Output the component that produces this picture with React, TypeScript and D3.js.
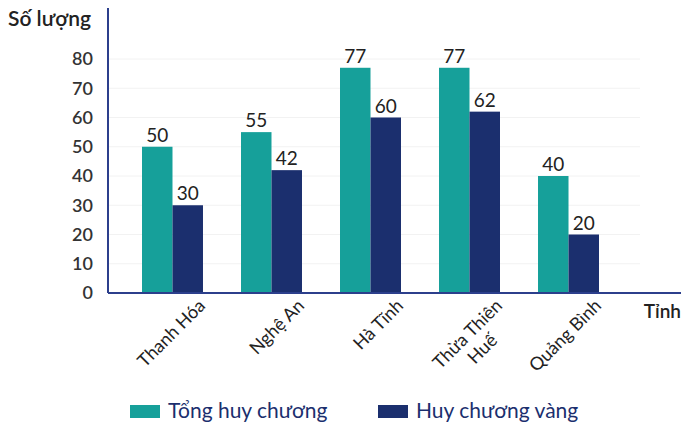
import React, { useEffect, useRef } from "react";
import * as d3 from "d3";

const provinces = ["Thanh Hóa", "Nghệ An", "Hà Tĩnh", "Thừa Thiên\nHuế", "Quảng Bình"];
const totalMedals = [50, 55, 77, 77, 40];
const goldMedals = [30, 42, 60, 62, 20];
const yTicks = [0, 10, 20, 30, 40, 50, 60, 70, 80];
const seriesNames = ["Tổng huy chương", "Huy chương vàng"];
const colors = ["#16a09a", "#1b2f6e"];

const W = 683;
const H = 427;
const FONT = "Lato, 'Open Sans', sans-serif";

export default function App() {
  const ref = useRef<SVGSVGElement | null>(null);

  useEffect(() => {
    const svg = d3.select(ref.current);
    svg.selectAll("*").remove();

    const x0 = 108;
    const y0 = 293;
    const y = d3.scaleLinear().domain([0, 80]).range([y0, 59]);
    const x = d3.scaleBand<string>().domain(provinces).range([142, 599]).paddingInner(0.384).paddingOuter(0);
    const xs = d3.scaleBand<number>().domain([0, 1]).range([0, x.bandwidth()]);

    // faint grid
    svg.append("g").selectAll("line").data(yTicks.filter((d) => d > 0)).join("line")
      .attr("x1", x0 + 1).attr("x2", 640)
      .attr("y1", (d) => y(d)).attr("y2", (d) => y(d))
      .attr("stroke", "#f2f2f2").attr("stroke-width", 1);

    // bars
    const g = svg.append("g");
    provinces.forEach((p, i) => {
      const vals = [totalMedals[i], goldMedals[i]];
      vals.forEach((v, s) => {
        const bx = (x(p) as number) + (xs(s) as number);
        g.append("rect")
          .attr("x", bx).attr("y", y(v))
          .attr("width", xs.bandwidth()).attr("height", y0 - y(v))
          .attr("fill", colors[s]);
        g.append("text")
          .attr("x", bx + xs.bandwidth() / 2).attr("y", y(v) - 5)
          .attr("text-anchor", "middle")
          .attr("font-family", FONT).attr("font-size", 19).attr("fill", "#222")
          .text(v);
      });
    });

    // axes
    svg.append("line").attr("x1", x0).attr("x2", x0).attr("y1", 8).attr("y2", y0)
      .attr("stroke", "#2c3f8c").attr("stroke-width", 2);
    svg.append("line").attr("x1", x0).attr("x2", 681).attr("y1", y0).attr("y2", y0)
      .attr("stroke", "#2c3f8c").attr("stroke-width", 2);

    // y tick labels
    svg.append("g").selectAll("text").data(yTicks).join("text")
      .attr("x", 93).attr("y", (d) => y(d)).attr("dy", "0.35em")
      .attr("text-anchor", "end")
      .attr("font-family", FONT).attr("font-size", 18).attr("font-weight", 600).attr("fill", "#333")
      .text((d) => d);

    // x labels
    provinces.forEach((p) => {
      const cx = (x(p) as number) + x.bandwidth() / 2;
      const lines = p.split("\n");
      const tg = svg.append("g").attr("transform", `translate(${cx + 25},${298}) rotate(-45)`);
      const t0 = tg.append("text")
        .attr("x", 0).attr("y", 0).attr("dy", "0.7em")
        .attr("text-anchor", "end")
        .attr("font-family", FONT).attr("font-size", 18).attr("fill", "#222")
        .text(lines[0]);
      if (lines.length > 1) {
        const w = (t0.node() as SVGTextElement).getComputedTextLength();
        tg.append("text")
          .attr("x", -w / 2).attr("y", 21).attr("dy", "0.7em")
          .attr("text-anchor", "middle")
          .attr("font-family", FONT).attr("font-size", 18).attr("fill", "#222")
          .text(lines[1]);
      }
    });

    // axis titles
    svg.append("text").attr("x", 8).attr("y", 26)
      .attr("font-family", FONT).attr("font-size", 21).attr("font-weight", 600).attr("fill", "#222")
      .text("Số lượng");
    svg.append("text").attr("x", 681).attr("y", 318).attr("text-anchor", "end")
      .attr("font-family", FONT).attr("font-size", 19).attr("font-weight", 600).attr("fill", "#222")
      .text("Tỉnh");

    // legend
    const lx = [130, 378];
    seriesNames.forEach((n, i) => {
      svg.append("rect").attr("x", lx[i]).attr("y", 405).attr("width", 30).attr("height", 13).attr("fill", colors[i]);
      svg.append("text").attr("x", lx[i] + 38).attr("y", 418)
        .attr("font-family", FONT).attr("font-size", 21).attr("fill", colors[1])
        .text(n);
    });
  }, []);

  return <svg ref={ref} width={W} height={H} style={{ display: "block", position: "absolute", left: 0, top: 0, background: "#fff" }} />;
}
